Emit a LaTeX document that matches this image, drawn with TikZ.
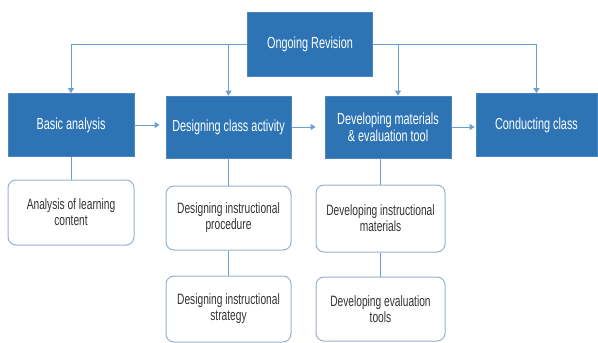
\documentclass[tikz,border=0pt]{standalone}
\usepackage{fontspec}
\setmainfont{Liberation Sans}[FakeStretch=0.68]
\usetikzlibrary{arrows.meta}
\definecolor{boxblue}{HTML}{2E74B5}
\definecolor{boxedge}{HTML}{4A86C0}
\definecolor{linkblue}{HTML}{6A9FD3}
\definecolor{softedge}{HTML}{9AB0C8}
\definecolor{txtgray}{HTML}{333333}
\begin{document}
\begin{tikzpicture}[x=1pt,y=-1pt,
  bluebox/.style={rectangle, fill=boxblue, draw=boxedge, line width=0.8pt, text=white,
    font=\fontsize{16}{17}\selectfont, align=center, inner sep=2pt},
  softbox/.style={rectangle, rounded corners=8pt, fill=white, draw=softedge, line width=1pt,
    text=txtgray, font=\fontsize{15}{16}\selectfont, align=center, inner sep=2pt},
  link/.style={draw=linkblue, line width=1pt},
  arr/.style={link, -{Triangle[length=5pt,width=6pt]}}]
\useasboundingbox (0,0) rectangle (598,343);
% top row
\node[bluebox, minimum width=125pt, minimum height=64pt] (ong) at (310,44) {Ongoing Revision};
\node[bluebox, minimum width=126pt, minimum height=63pt] (basic) at (71,125) {Basic analysis};
\node[bluebox, minimum width=125pt, minimum height=62pt] (dca) at (228.5,127) {Designing class activity};
\node[bluebox, minimum width=126pt, minimum height=62pt] (dev) at (388,127) {Developing materials\\\& evaluation tool};
\node[bluebox, minimum width=121pt, minimum height=63pt] (cond) at (536.5,125) {Conducting class};
% lower boxes
\node[softbox, minimum width=126pt, minimum height=65pt] (alc) at (71,212.5) {Analysis of learning\\content};
\node[softbox, minimum width=125pt, minimum height=64pt] (dip) at (228.5,218) {Designing instructional\\procedure};
\node[softbox, minimum width=125pt, minimum height=66pt] (dis) at (228.5,309) {Designing instructional\\strategy};
\node[softbox, minimum width=129pt, minimum height=67pt] (dim) at (380.5,218.5) {Developing instructional\\materials};
\node[softbox, minimum width=129pt, minimum height=64pt] (det) at (380.5,309) {Developing evaluation\\tools};
% revision feedback
\draw[arr] (ong.west) -| (basic.north);
\draw[arr] (dca.north |- ong.west) -- (dca.north);
\draw[arr] ([xshift=10pt]dev.north |- ong.east) -- ([xshift=10pt]dev.north);
\draw[arr] (ong.east) -| (cond.north);
% main flow
\draw[arr, shorten >=6pt] (basic.east) -- (basic.east -| dca.west);
\draw[arr, shorten >=9pt] (dca.east) -- (dev.west);
\draw[arr, shorten >=1pt] (dev.east) -- (dev.east -| cond.west);
% sub-steps
\draw[link] (basic.south) -- (alc.north);
\draw[link] (dca.south) -- (dip.north);
\draw[link] (dip.south) -- (dis.north);
\draw[link] (dim.north |- dev.south) -- (dim.north);
\draw[link] (dim.south) -- (det.north);
\end{tikzpicture}
\end{document}
